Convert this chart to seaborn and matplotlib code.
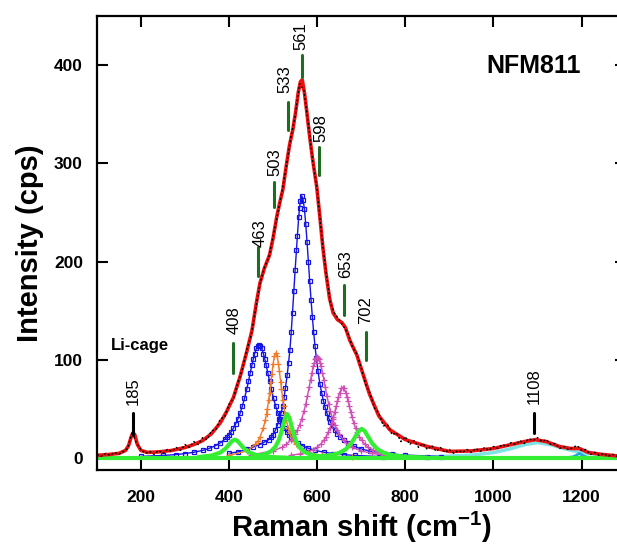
import numpy as np
import matplotlib
matplotlib.use("Agg")
import matplotlib.pyplot as plt
import seaborn as sns

# =============================
# DATA
# =============================
raw_x = list(range(100, 1301, 10))
raw_y = [4, 2, 5, 3, 6, 4, 7, 10, 27, 15, 9, 5, 7, 4, 8, 5, 9, 7, 11, 8,
         14, 11, 17, 14, 21, 19, 28, 29, 40, 42, 55, 61, 77, 90, 110, 125, 151, 177, 194, 204,
         226, 248, 271, 297, 326, 348, 381, 374, 340, 302, 273, 227, 190, 158, 147, 141, 134, 127, 113, 106,
         92, 75, 66, 51, 46, 33, 34, 24, 26, 17, 22, 14, 18, 11, 15, 9, 13, 7, 11, 6,
         9, 5, 8, 6, 9, 6, 10, 7, 11, 8, 12, 10, 14, 12, 16, 14, 18, 15, 20, 18,
         21, 17, 19, 14, 15, 10, 12, 9, 11, 13, 8, 9, 4, 6, 3, 5, 2, 4, 2, 3, 1]

fit_x = [100, 130, 150, 165, 172, 178, 182, 186, 192, 200, 215, 240, 270, 300, 320, 340, 360, 380,
         395, 410, 425, 440, 452, 462, 470, 480, 492, 500, 508, 515, 522, 530, 537, 545, 551, 557,
         562, 566, 571, 576, 583, 590, 599, 606, 613, 620, 628, 636, 646, 656, 664, 674, 690, 703,
         719, 740, 765, 800, 850, 900, 950, 1000, 1040, 1070, 1095, 1120, 1150, 1175, 1195, 1215,
         1245, 1280, 1300]
fit_y = [3, 4, 5, 8, 13, 22, 26, 24, 14, 8, 6, 6.5, 8, 11, 14, 18, 25, 36,
         48, 62, 83, 108, 130, 158, 178, 193, 207, 224, 245, 260, 273, 298, 318, 335, 352, 372,
         383, 385, 372, 354, 327, 303, 276, 246, 214, 188, 163, 148, 141, 138, 133, 120, 105, 87,
         65, 43, 29, 19, 12, 7, 7.5, 10, 14, 17, 19, 17, 12, 10, 10, 6,
         4, 2.5, 2]

# blue component ~463
b1_x = [200, 250, 280, 300, 320, 340, 355, 370, 380, 390, 395, 400, 405, 410, 415, 420, 425, 430,
        435, 440, 444, 448, 452, 455, 458, 462, 465, 468, 471, 474, 478, 481, 484, 488, 492, 496,
        501, 506, 511, 516, 521, 526, 531, 536, 541, 546, 556, 566, 580, 596, 615, 636, 660, 686,
        750, 850]
b1_y = [2.0, 2.9, 3.8, 4.8, 6.1, 8.0, 10.1, 13.0, 15.7, 19.3, 21.5, 24.1, 27.1, 30.7, 34.9, 40, 45.8, 52.8,
        60.9, 70, 78.2, 86.7, 95.1, 101, 106.3, 111.7, 114.2, 115, 114.2, 111.7, 106.3, 101, 95.1, 86.7, 78.2, 70,
        60.9, 52.8, 45.8, 40, 34.9, 30.7, 27.1, 24.1, 21.5, 19.3, 15.7, 13, 10.2, 8, 6.2, 4.8, 3.7, 2.9,
        1.7, 0.9]

# blue component ~561
b2_x = [400, 420, 440, 455, 470, 480, 490, 495, 500, 505, 510, 514, 518, 522, 525, 528, 532, 535,
        538, 541, 544, 547, 550, 553, 555, 558, 560, 562, 565, 568, 571, 574, 577, 580, 583, 586,
        589, 592, 595, 598, 602, 606, 610, 614, 618, 622, 626, 630, 635, 640, 646, 652, 660, 670,
        684, 700, 720, 740, 770, 800, 880]
b2_y = [5, 6.5, 9, 11.5, 14, 16.5, 19, 21.5, 24, 28.5, 34, 39.5, 46, 53, 62, 72, 85, 97,
        110, 128, 148, 170, 192, 212, 226, 245, 255, 262, 267, 263, 253.6, 238.4, 220, 200, 180.5, 161.5,
        144, 128, 114.5, 102, 88.3, 76, 66.9, 58.7, 51.8, 46, 41, 37, 32.4, 28.7, 24.9, 22, 18.6, 15.4,
        12.2, 9.5, 7.3, 5.8, 4.2, 3.3, 1.8]

# orange component ~503
o_x = [400, 440, 460, 465, 470, 478, 482, 485, 487, 490, 492, 495, 497, 500, 503, 506, 509, 512,
       514, 517, 519, 522, 524, 527, 530, 534, 538, 542, 547, 552, 560, 572, 590, 612, 680]
o_y = [3, 7.4, 14.3, 17.3, 21.4, 31.3, 38.5, 45.3, 50.6, 59.8, 66.7, 77.9, 85.6, 96.3, 104, 107, 104, 96.3,
       89.3, 77.9, 70.4, 59.8, 53.5, 45.3, 38.5, 31.3, 25.7, 21.4, 17.3, 14.3, 10.7, 7.4, 4.7, 3, 1.1]

# magenta components ~598 and ~653
m1_x = [450, 500, 520, 530, 540, 550, 555, 560, 565, 570, 574, 578, 582, 585, 588, 591, 593, 596,
        598, 600, 602, 604, 607, 609, 612, 615, 618, 622, 626, 630, 635, 640, 645, 650, 660, 670,
        680, 700, 725, 750]
m1_y = [3.5, 7.5, 11.2, 14.2, 18.4, 24.6, 28.8, 33.9, 40.2, 48, 55.3, 63.7, 72.9, 80, 87, 93.4, 96.9, 101,
        102.5, 103, 102.5, 101, 96.9, 93.4, 87, 80, 72.9, 63.7, 55.3, 48, 40.2, 33.9, 28.8, 24.6, 18.4, 14.2,
        11.2, 7.5, 4.9, 3.5]
m2_x = [540, 560, 580, 590, 600, 608, 615, 620, 625, 629, 633, 637, 640, 643, 646, 648, 651, 655,
        658, 661, 665, 668, 670, 673, 676, 679, 683, 687, 691, 696, 701, 708, 716, 726, 736, 756, 776]
m2_y = [3.1, 4.4, 6.7, 8.6, 11.3, 14.4, 18.2, 21.8, 26.3, 30.7, 36, 42.2, 47.4, 52.9, 58.5, 62.1, 66.8, 71,
        72, 71, 66.8, 62.1, 58.5, 52.9, 47.4, 42.2, 36, 30.7, 26.3, 21.8, 18.2, 14.4, 11.3, 8.6, 6.7, 4.4, 3.1]

# green components ~408, ~533, ~702 and baseline
g1_x = [330, 360, 380, 392, 400, 407, 413, 419, 426, 434, 446, 466, 496, 530]
g1_y = [1.25, 2.8, 5.8, 9.9, 14.1, 17.7, 19, 17.7, 14.1, 9.9, 5.8, 2.8, 1.25, 0.6]
g2_x = [460, 480, 495, 505, 512, 518, 523, 527, 532, 537, 541, 546, 552, 559, 569, 584, 604, 640]
g2_y = [2.1, 3.9, 7.1, 11.7, 17.6, 25.5, 34.2, 41, 45, 41, 34.2, 25.5, 17.6, 11.7, 7.1, 3.9, 2.1, 0.9]
g3_x = [600, 630, 650, 665, 677, 686, 694, 701, 708, 716, 725, 737, 752, 772, 802, 850]
g3_y = [1.6, 3.1, 5.4, 9.2, 15, 21.6, 27.6, 30, 27.6, 21.6, 15, 9.2, 5.4, 3.1, 1.6, 0.7]
base_x = [100, 1300]
base_y = [0, 0]

# cyan components ~1108 and ~1195
c1_x = [850, 950, 1000, 1040, 1070, 1100, 1130, 1160, 1200, 1250, 1300]
c1_y = [1.3, 3.2, 5.8, 9.8, 13.8, 16, 13.8, 9.8, 5.8, 3.2, 1.8]
c2_x = [1165, 1180, 1188, 1195, 1202, 1210, 1225]
c2_y = [0.5, 1.5, 3, 5, 3, 1.5, 0.5]

# peak labels
peak_labels = ["185", "408", "463", "503", "533", "561", "598", "653", "702", "1108"]
label_x = [182, 412, 470, 504, 527, 563, 608, 665, 710, 1093]
label_y = [68, 141, 229, 301, 386, 429, 336, 197, 151, 73]
bar_x = [182, 410, 465, 502, 533, 565, 605, 660, 710, 1093]
bar_lo = [24, 87, 185, 256, 334, 388, 288, 146, 100, 26]
bar_hi = [46, 117, 215, 281, 362, 410, 317, 176, 128, 46]

# =============================
# PLOT
# =============================
sns.set_theme(style="ticks")
plt.rcParams["font.family"] = ["Liberation Sans", "DejaVu Sans"]
plt.rcParams["mathtext.fontset"] = "custom"
plt.rcParams["mathtext.rm"] = "Liberation Sans"
plt.rcParams["mathtext.bf"] = "Liberation Sans:bold"
for k in ["text.color", "axes.labelcolor", "xtick.color", "ytick.color", "axes.edgecolor"]:
    plt.rcParams[k] = "black"

fig = plt.figure(figsize=(6.17, 5.46), dpi=100)
ax = fig.add_axes([0.157, 0.139, 0.857, 0.832])


def line(x, y, **kw):
    sns.lineplot(x=x, y=y, ax=ax, sort=False, estimator=None, legend=False, **kw)


line(c1_x, c1_y, color="#7fe3e3", linewidth=2.5)
line(c2_x, c2_y, color="#1fa6d8", linewidth=2)
for bx, by in [(b1_x, b1_y), (b2_x, b2_y)]:
    line(bx, by, color="#1414e6", linewidth=1.0, marker="s", markersize=3,
         markerfacecolor="none", markeredgecolor="#1414e6", markeredgewidth=0.9)
line(o_x, o_y, color="#f07a28", linewidth=1.0, marker="+", markersize=4,
     markeredgecolor="#f07a28", markeredgewidth=0.9)
for mx, my in [(m1_x, m1_y), (m2_x, m2_y)]:
    line(mx, my, color="#d04fb4", linewidth=1.0, marker="+", markersize=4,
         markeredgecolor="#d04fb4", markeredgewidth=0.9)
for gx, gy in [(base_x, base_y), (g1_x, g1_y), (g2_x, g2_y), (g3_x, g3_y)]:
    line(gx, gy, color="#33ee33", linewidth=3)
line(fit_x, fit_y, color="#ee1111", linewidth=2.6)
line(raw_x, raw_y, color="black", linewidth=1.0, linestyle=(0, (1.5, 1.5)))

# peak markers and labels
for i, lab in enumerate(peak_labels):
    col = "black" if lab in ("185", "1108") else "#1f6e1f"
    ax.plot([bar_x[i], bar_x[i]], [bar_lo[i], bar_hi[i]], color=col, lw=2.2)
    ax.text(label_x[i], label_y[i], lab, rotation=90, ha="center", va="center",
            fontsize=12, color="black")

ax.text(198, 115, "Li-cage", ha="center", va="center", fontsize=12, fontweight="bold")
ax.text(1091, 399, "NFM811", ha="center", va="center", fontsize=18, fontweight="bold")

ax.set_xlim(100, 1300)
ax.set_ylim(-12, 450)
ax.set_xticks([200, 400, 600, 800, 1000, 1200])
ax.set_yticks([0, 100, 200, 300, 400])
for s in ax.spines.values():
    s.set_linewidth(1.6)
ax.tick_params(direction="in", length=8, width=1.5, top=True, right=True, labelsize=12.5)
ax.tick_params(axis="x", pad=14)
ax.tick_params(axis="y", pad=10)
for t in ax.get_xticklabels() + ax.get_yticklabels():
    t.set_fontweight("bold")

ax.set_xlabel("Raman shift (cm$^{\\mathbf{-1}}$)", fontsize=21, fontweight="bold", labelpad=4)
ax.set_ylabel("Intensity (cps)", fontsize=21, fontweight="bold", labelpad=7)

fig.savefig("out.png", dpi=100)
